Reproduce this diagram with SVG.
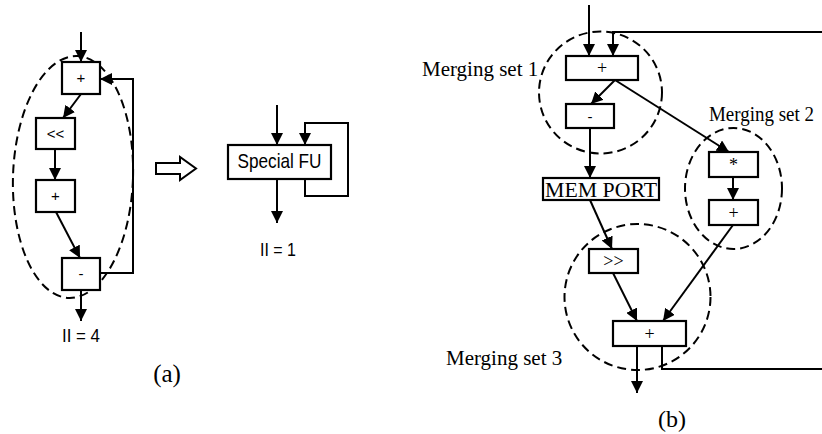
<svg xmlns="http://www.w3.org/2000/svg" width="822" height="434" viewBox="0 0 822 434">
<defs>
<marker id="ah" markerUnits="userSpaceOnUse" markerWidth="12" markerHeight="12" refX="12" refY="6" orient="auto">
<path d="M0,0 L12,6 L0,12 z" fill="#000"/>
</marker>
<style>
.box{fill:#fff;stroke:#000;stroke-width:2.2}
.ln{fill:none;stroke:#000;stroke-width:2}
.ar{fill:none;stroke:#000;stroke-width:2;marker-end:url(#ah)}
.dash{fill:none;stroke:#000;stroke-width:2;stroke-dasharray:9,5}
.sa{font-family:"Liberation Sans",Arial,sans-serif;font-size:15px;text-anchor:middle;fill:#000}
.nar{font-family:"Liberation Sans Narrow","Liberation Sans",Arial,sans-serif;text-anchor:middle;fill:#000}
.se{font-family:"Liberation Serif","Times New Roman",serif;fill:#000}
</style>
</defs>

<!-- (a) -->
<ellipse class="dash" cx="73" cy="177" rx="60" ry="121" transform="rotate(2 73 177)"/>
<g id="connectors-a">
<line class="ar" x1="81" y1="32" x2="81" y2="62"/>
<line class="ar" x1="81" y1="94" x2="63" y2="118"/>
<line class="ar" x1="55" y1="149" x2="55" y2="180"/>
<line class="ar" x1="56" y1="212" x2="80" y2="258"/>
<polyline class="ar" points="100,273 133,273 133,79 100,79"/>
<line class="ar" x1="81" y1="290" x2="81" y2="321"/>
<line class="ar" x1="277" y1="105" x2="277" y2="145"/>
<polyline class="ar" points="305,179 305,196 348,196 348,123 305,123 305,145"/>
<line class="ar" x1="277" y1="179" x2="277" y2="223"/>
</g>
<g id="a-plus1"><rect class="box" x="62" y="62" width="38" height="32"/><text class="sa" x="81" y="83">+</text></g>
<g id="a-shl"><rect class="box" x="36" y="118" width="39" height="31"/><text class="sa" x="55.5" y="139">&lt;&lt;</text></g>
<g id="a-plus2"><rect class="box" x="36" y="180" width="39" height="32"/><text class="sa" x="55.5" y="201">+</text></g>
<g id="a-minus"><rect class="box" x="62" y="258" width="38" height="32"/><text class="sa" x="81" y="279">-</text></g>
<text class="nar" x="81" y="342" font-size="19" textLength="38" lengthAdjust="spacingAndGlyphs">II = 4</text>
<text class="se" x="167" y="382" font-size="25" text-anchor="middle">(a)</text>

<g id="big-arrow"><path d="M156,163 L180,163 L180,157 L196,168.5 L180,180 L180,174 L156,174 z" fill="#fff" stroke="#000" stroke-width="2"/></g>

<g id="special-fu"><rect class="box" x="228" y="145" width="103" height="34"/><text class="nar" x="279.5" y="168" font-size="21" textLength="84" lengthAdjust="spacingAndGlyphs">Special FU</text></g>
<text class="nar" x="278" y="256" font-size="19" textLength="36" lengthAdjust="spacingAndGlyphs">II = 1</text>

<!-- (b) -->
<ellipse class="dash" cx="600.5" cy="92.5" rx="61.5" ry="61"/>
<ellipse class="dash" cx="733.5" cy="188.5" rx="48.5" ry="60.5"/>
<ellipse class="dash" cx="637.5" cy="297" rx="73" ry="73"/>
<g id="connectors-b">
<line class="ar" x1="589" y1="5" x2="589" y2="56"/>
<polyline class="ar" points="822,32 613,32 613,56"/>
<line class="ar" x1="615" y1="80" x2="591" y2="104"/>
<line class="ar" x1="615" y1="80" x2="729" y2="152"/>
<line class="ar" x1="590" y1="128" x2="590" y2="178"/>
<line class="ar" x1="733" y1="177" x2="733" y2="200"/>
<line class="ar" x1="590" y1="200" x2="612" y2="249"/>
<line class="ar" x1="613" y1="273" x2="637" y2="321"/>
<line class="ar" x1="733" y1="225" x2="663" y2="321"/>
<line class="ar" x1="637" y1="346" x2="637" y2="393"/>
<polyline class="ln" points="662,346 662,369 822,369"/>
</g>
<g id="b-plus1"><rect class="box" x="566" y="56" width="72" height="24"/><text class="se" x="602" y="74" font-size="18" text-anchor="middle">+</text></g>
<g id="b-minus"><rect class="box" x="566" y="104" width="48" height="24"/><text class="sa" x="590" y="122">-</text></g>
<g id="b-mem"><rect class="box" x="543" y="178" width="116" height="22"/><text class="se" x="601" y="197" font-size="21" text-anchor="middle" textLength="112" lengthAdjust="spacingAndGlyphs">MEM  PORT</text></g>
<g id="b-mul"><rect class="box" x="709" y="152" width="49" height="25"/><text class="se" x="733.5" y="171" font-size="18" text-anchor="middle">*</text></g>
<g id="b-plus2"><rect class="box" x="709" y="200" width="49" height="25"/><text class="se" x="733.5" y="219" font-size="18" text-anchor="middle">+</text></g>
<g id="b-shr"><rect class="box" x="589" y="249" width="49" height="24"/><text class="se" x="613.5" y="267" font-size="18" text-anchor="middle">&gt;&gt;</text></g>
<g id="b-plus3"><rect class="box" x="613" y="321" width="73" height="25"/><text class="se" x="649.5" y="340" font-size="18" text-anchor="middle">+</text></g>
<text class="se" x="422" y="76" font-size="21">Merging set 1</text>
<text class="se" x="709" y="121" font-size="20" textLength="105" lengthAdjust="spacingAndGlyphs">Merging set 2</text>
<text class="se" x="446" y="365" font-size="21">Merging set 3</text>
<text class="se" x="672" y="427" font-size="24" text-anchor="middle">(b)</text>
</svg>
